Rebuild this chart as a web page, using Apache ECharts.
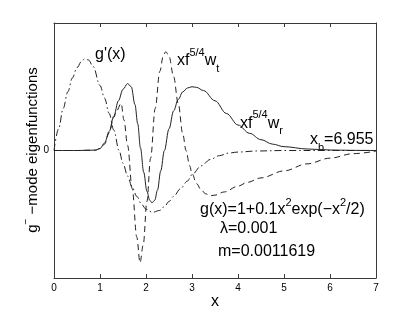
<!DOCTYPE html>
<html>
<head>
<meta charset="utf-8">
<script src="https://cdn.jsdelivr.net/npm/echarts@6/dist/echarts.min.js"></script>
<style>html,body{margin:0;padding:0;background:#fff;}#c{width:415px;height:313px;}</style>
</head>
<body>
<div id="c"></div>
<script>
// ---- data ----
const xTicks = [0,1,2,3,4,5,6,7];
// solid: x f^{5/4} w_r
const xR = [0,0.5,0.9,1.0,1.1,1.2,1.3,1.4,1.5,1.6,1.68,1.76,1.82,1.88,1.95,2.02,2.08,2.13,2.19,2.25,2.32,2.40,2.5,2.6,2.7,2.8,2.9,3.0,3.1,3.25,3.5,3.75,4.0,4.25,4.5,4.75,5.0,5.5,6.0,6.5,7.0];
const wR = [0,0,0.003,0.015,0.06,0.15,0.27,0.39,0.48,0.525,0.50,0.36,0.21,0.02,-0.17,-0.32,-0.39,-0.41,-0.39,-0.31,-0.16,0.0,0.17,0.31,0.40,0.46,0.49,0.50,0.495,0.47,0.39,0.29,0.20,0.135,0.085,0.05,0.03,0.012,0.004,0.001,0];
// dashed: x f^{5/4} w_t
const xT = [0,0.5,0.9,1.0,1.1,1.2,1.3,1.36,1.46,1.52,1.6,1.7,1.8,1.87,1.94,2.02,2.1,2.2,2.3,2.38,2.43,2.5,2.6,2.7,2.8,2.87,2.95,3.0,3.1,3.2,3.3,3.4,3.5,3.7,4.0,4.2,4.5,5.0,5.5,6.0,6.5,7.0];
const wT = [0,0,0.003,0.015,0.05,0.14,0.26,0.31,0.37,0.24,0.04,-0.30,-0.68,-0.88,-0.74,-0.40,-0.06,0.33,0.62,0.75,0.775,0.74,0.58,0.37,0.13,0.0,-0.12,-0.18,-0.26,-0.31,-0.34,-0.355,-0.35,-0.325,-0.28,-0.25,-0.215,-0.16,-0.105,-0.06,-0.025,-0.005];
// dash-dot: g'(x)
const xG = [0,0.1,0.2,0.3,0.4,0.5,0.6,0.67,0.75,0.85,1.0,1.1,1.2,1.3,1.414,1.5,1.6,1.7,1.8,1.9,2.0,2.14,2.3,2.4,2.5,2.6,2.75,2.9,3.0,3.2,3.4,3.6,3.8,4.0,4.4,5.0,6.0,7.0];
const gP = [0,0.17,0.33,0.46,0.57,0.65,0.70,0.72,0.71,0.66,0.51,0.41,0.29,0.16,0,-0.10,-0.20,-0.29,-0.36,-0.42,-0.46,-0.485,-0.47,-0.44,-0.40,-0.36,-0.30,-0.24,-0.19,-0.12,-0.07,-0.04,-0.02,-0.012,-0.004,0,0,0];

const FONT = '"Liberation Sans", Arial, Helvetica, sans-serif';
const zip = (a, b) => a.map((v, i) => [v, b[i]]);

const cv = document.createElement('canvas').getContext('2d');
function mw(t, s) { cv.font = s + 'px ' + FONT; return cv.measureText(t).width; }
// build a text made of pieces (sup/sub) starting at (x, baseline)
function pieces(x, base, parts, rot) {
  let off = 0;
  const children = parts.map(p => {
    const s = p.s || 16;
    const el = { type: 'text', x: off, y: (p.dy || 0) - 0.33 * s,
      style: { text: p.t, fontSize: s, fontFamily: FONT, fill: '#000', verticalAlign: 'middle', align: 'left' } };
    off += mw(p.t, s);
    return el;
  });
  if (rot) {
    return { type: 'group', x: x, y: base, rotation: rot, children: children.map(c => { c.x -= off / 2; return c; }) };
  }
  return { type: 'group', x: x, y: base, children: children };
}

const chart = echarts.init(document.getElementById('c'), null, { renderer: 'canvas' });
const axisCol = '#3a3a3a';
const baseX = {
  type: 'value', min: 0, max: 7, interval: 1,
  axisLine: { onZero: false, lineStyle: { color: axisCol, width: 1 } },
  axisTick: { inside: true, length: 4, lineStyle: { color: axisCol } },
  splitLine: { show: false }
};
const baseY = {
  type: 'value', min: -1, max: 1, interval: 1,
  axisLine: { onZero: false, lineStyle: { color: axisCol, width: 1 } },
  axisTick: { inside: true, length: 4, lineStyle: { color: axisCol } },
  splitLine: { show: false }
};
const lineCol = '#222';
chart.setOption({
  animation: false,
  backgroundColor: '#fff',
  grid: { left: 54, top: 23, right: 39, bottom: 35 },
  xAxis: [
    Object.assign({}, baseX, { position: 'bottom',
      axisLabel: { fontSize: 10, color: '#000', fontFamily: FONT, margin: 5,
        formatter: v => xTicks.includes(v) ? String(v) : '' } }),
    Object.assign({}, baseX, { position: 'top', axisLabel: { show: false } })
  ],
  yAxis: [
    Object.assign({}, baseY, { position: 'left',
      axisLabel: { fontSize: 10, color: '#000', fontFamily: FONT, margin: 5,
        formatter: v => v === 0 ? '0' : '' } }),
    Object.assign({}, baseY, { position: 'right', axisLabel: { show: false } })
  ],
  series: [
    { type: 'line', data: zip(xR, wR), showSymbol: false, smooth: 0.35, smoothMonotone: 'x',
      lineStyle: { color: lineCol, width: 1, type: 'solid' } },
    { type: 'line', data: zip(xT, wT), showSymbol: false, smooth: 0.35, smoothMonotone: 'x',
      lineStyle: { color: lineCol, width: 1, type: [6, 4] } },
    { type: 'line', data: zip(xG, gP), showSymbol: false, smooth: 0.35, smoothMonotone: 'x',
      lineStyle: { color: lineCol, width: 1, type: [7, 3, 1.5, 3] } }
  ],
  graphic: [
    pieces(95, 60, [{ t: "g'(x)" }]),
    pieces(177, 66, [{ t: 'xf' }, { t: '5/4', s: 11, dy: -9 }, { t: 'w' }, { t: 't', s: 11, dy: 7 }]),
    pieces(240, 129, [{ t: 'xf' }, { t: '5/4', s: 11, dy: -10 }, { t: 'w' }, { t: 'r', s: 11, dy: 6 }]),
    pieces(310, 145, [{ t: 'x' }, { t: 'b', s: 11, dy: 7 }, { t: '=6.955' }]),
    pieces(200, 215, [{ t: 'g(x)=1+0.1x' }, { t: '2', s: 11, dy: -8 }, { t: 'exp(\u2212x' }, { t: '2', s: 11, dy: -8 }, { t: '/2)' }]),
    pieces(220, 234, [{ t: '\u03bb=0.001' }]),
    pieces(218, 257, [{ t: 'm=0.0011619' }]),
    pieces(211, 307, [{ t: 'x' }]),
    pieces(38, 150, [{ t: 'g', s: 15 }, { t: '\u2212', s: 10, dy: -8 }, { t: ' \u2212mode eigenfunctions', s: 15 }], Math.PI / 2)
  ]
});
</script>
</body>
</html>
